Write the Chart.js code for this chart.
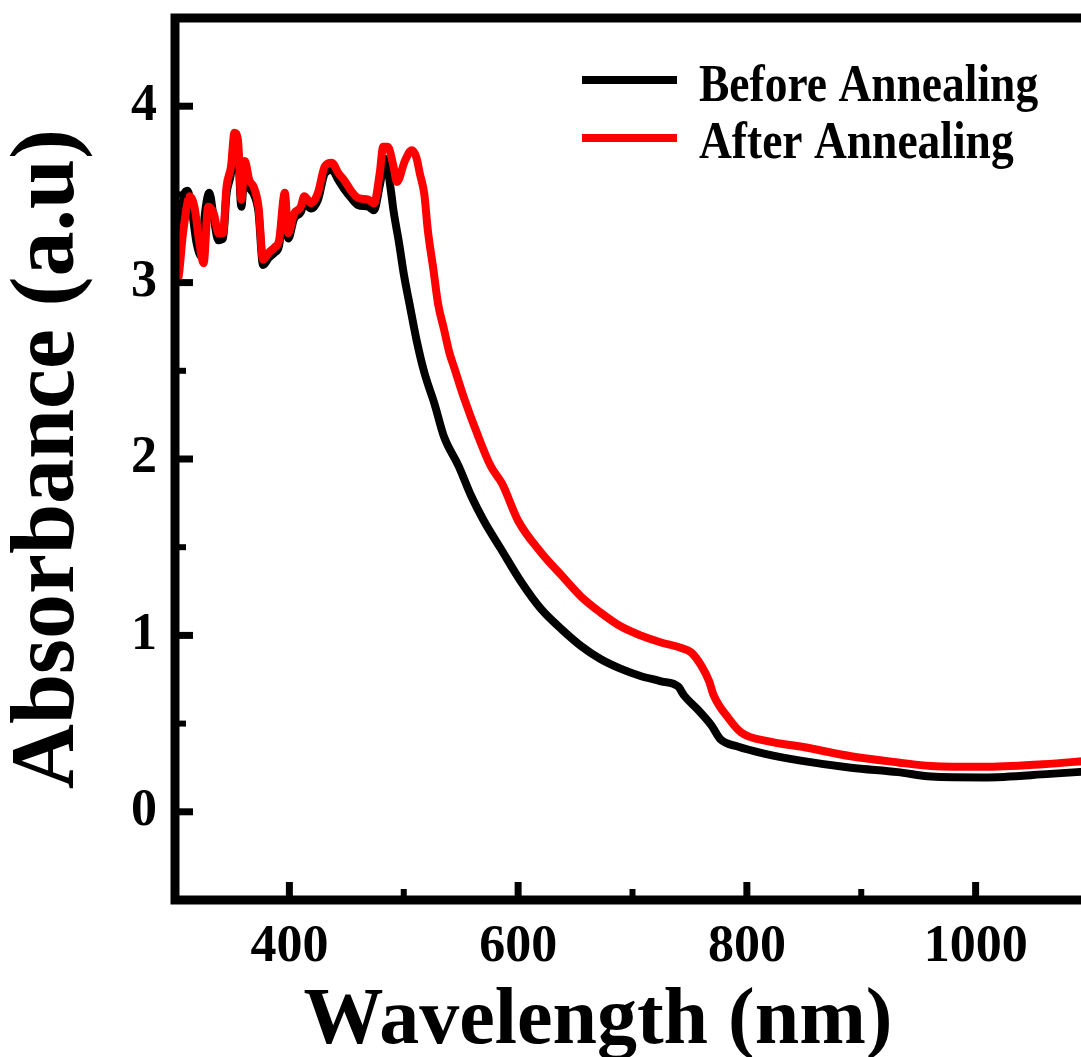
<!DOCTYPE html>
<html>
<head>
<meta charset="utf-8">
<script src="https://cdn.jsdelivr.net/npm/chart.js@4/dist/chart.umd.min.js"></script>
<style>
  html, body { margin: 0; padding: 0; background: #ffffff; overflow: hidden; }
  #wrap { width: 1100px; height: 1057px; }
</style>
</head>
<body>
<div id="wrap"><canvas id="c" width="1100" height="1057"></canvas></div>
<script>
// ---- data ----
const seriesLabels = ["Before Annealing", "After Annealing"];
const seriesColors = ["#000000", "#ff0000"];

const wlBefore = [300, 304, 308, 311, 315, 319, 323, 326, 330, 334, 338, 342, 345, 349, 352, 355, 358, 361, 365, 369, 373, 377, 382, 387, 391, 396, 399, 404, 410, 413, 419, 425, 431, 437, 443, 448, 454, 460, 469, 474, 479, 484, 489, 491, 496, 500, 505, 511, 518, 527, 535, 548, 559, 570, 585, 603, 620, 638, 655, 672, 690, 707, 725, 740, 745, 757, 769, 777, 792, 815, 847, 891, 932, 961, 1007, 1065, 1100];
const absBefore = [3.15, 3.30, 3.50, 3.52, 3.40, 3.22, 3.15, 3.38, 3.51, 3.36, 3.24, 3.25, 3.50, 3.62, 3.80, 3.76, 3.43, 3.64, 3.54, 3.50, 3.40, 3.10, 3.14, 3.17, 3.21, 3.47, 3.25, 3.36, 3.40, 3.45, 3.42, 3.47, 3.62, 3.64, 3.58, 3.53, 3.48, 3.44, 3.43, 3.41, 3.55, 3.70, 3.51, 3.41, 3.22, 3.05, 2.88, 2.68, 2.49, 2.31, 2.13, 1.96, 1.79, 1.65, 1.49, 1.30, 1.15, 1.035, 0.94, 0.866, 0.81, 0.77, 0.74, 0.71, 0.66, 0.58, 0.49, 0.41, 0.37, 0.33, 0.29, 0.25, 0.225, 0.20, 0.195, 0.215, 0.23];

const wlAfter = [300, 303, 307, 313, 317, 321, 325, 329, 334, 338, 342, 345, 349, 352, 355, 358, 361, 365, 369, 373, 377, 382, 387, 391, 396, 399, 404, 410, 413, 419, 425, 431, 437, 443, 448, 454, 460, 469, 474, 479, 482, 486, 491, 494, 501, 507, 511, 514, 518, 521, 526, 530, 535, 540, 544, 553, 565, 576, 586, 600, 620, 638, 655, 672, 690, 707, 725, 742, 751, 760, 767, 771, 784, 795, 818, 847, 891, 932, 961, 1007, 1059, 1100];
const absAfter = [3.00, 3.03, 3.28, 3.49, 3.43, 3.24, 3.11, 3.43, 3.39, 3.28, 3.28, 3.54, 3.66, 3.85, 3.81, 3.47, 3.69, 3.58, 3.54, 3.43, 3.13, 3.17, 3.20, 3.24, 3.51, 3.28, 3.39, 3.43, 3.49, 3.45, 3.51, 3.66, 3.68, 3.62, 3.58, 3.52, 3.48, 3.47, 3.45, 3.62, 3.77, 3.77, 3.66, 3.57, 3.69, 3.75, 3.71, 3.62, 3.50, 3.30, 3.07, 2.88, 2.74, 2.60, 2.52, 2.34, 2.13, 1.96, 1.86, 1.65, 1.47, 1.34, 1.22, 1.13, 1.05, 1.00, 0.96, 0.93, 0.905, 0.83, 0.74, 0.66, 0.53, 0.45, 0.40, 0.37, 0.315, 0.28, 0.26, 0.255, 0.27, 0.29];

const xMajorTicks = [400, 600, 800, 1000];
const xMinorTicks = [500, 700, 900];
const yMajorTicks = [0, 1, 2, 3, 4];
const yMinorTicks = [0.5, 1.5, 2.5, 3.5];
const xTitle = "Wavelength (nm)";
const yTitle = "Absorbance (a.u)";

// ---- styling ----
const SERIF = "'Liberation Serif', 'Times New Roman', serif";

const framePlugin = {
  id: 'frameTicks',
  afterDatasetsDraw(chart) {
    const {ctx, chartArea: a, scales} = chart;
    ctx.save();
    ctx.strokeStyle = '#000';
    const tick = (x1, y1, x2, y2, w) => {
      ctx.lineWidth = w; ctx.beginPath(); ctx.moveTo(x1, y1); ctx.lineTo(x2, y2); ctx.stroke();
    };
    xMajorTicks.forEach(v => { const p = scales.x.getPixelForValue(v); tick(p, a.bottom, p, a.bottom - 18, 7); });
    xMinorTicks.forEach(v => { const p = scales.x.getPixelForValue(v); tick(p, a.bottom, p, a.bottom - 11, 6); });
    yMajorTicks.forEach(v => { const p = scales.y.getPixelForValue(v); tick(a.left, p, a.left + 18, p, 7); });
    yMinorTicks.forEach(v => { const p = scales.y.getPixelForValue(v); tick(a.left, p, a.left + 11, p, 6); });
    ctx.lineWidth = 9;
    ctx.lineJoin = 'miter';
    ctx.strokeRect(a.left, a.top, a.right - a.left, a.bottom - a.top);
    ctx.restore();
  },
  afterDraw(chart) {
    const {ctx} = chart;
    ctx.save();
    ctx.fillStyle = '#000';
    ctx.font = "bold 80px " + SERIF;
    ctx.textAlign = 'center';
    ctx.textBaseline = 'alphabetic';
    ctx.fillText(xTitle, 598, 1043);
    const ds = chart.data.datasets;
    const rows = [{ly: 80, ty: 101}, {ly: 138, ty: 158}];
    ds.forEach((d, i) => {
      const r = rows[i];
      ctx.strokeStyle = d.borderColor;
      ctx.lineWidth = 8;
      ctx.beginPath(); ctx.moveTo(582, r.ly); ctx.lineTo(677, r.ly); ctx.stroke();
      ctx.save();
      ctx.translate(699, r.ty);
      ctx.scale(1, 1.17);
      ctx.fillStyle = '#000';
      ctx.font = "bold 45.5px " + SERIF;
      ctx.textAlign = 'left';
      ctx.textBaseline = 'alphabetic';
      ctx.fillText(d.label, 0, 0);
      ctx.restore();
    });
    ctx.restore();
  }
};

const toPts = (xs, ys) => xs.map((x, i) => ({x: x, y: ys[i]}));

new Chart(document.getElementById('c'), {
  type: 'line',
  data: {
    datasets: [
      { label: seriesLabels[0], data: toPts(wlBefore, absBefore), borderColor: seriesColors[0], backgroundColor: seriesColors[0],
        borderWidth: 8, pointRadius: 0, cubicInterpolationMode: 'monotone', order: 1, borderJoinStyle: 'round' },
      { label: seriesLabels[1], data: toPts(wlAfter, absAfter), borderColor: seriesColors[1], backgroundColor: seriesColors[1],
        borderWidth: 8, pointRadius: 0, cubicInterpolationMode: 'monotone', order: 0, borderJoinStyle: 'round' }
    ]
  },
  options: {
    responsive: false,
    devicePixelRatio: 1,
    animation: false,
    layout: { padding: { top: 18, right: 10, left: 0, bottom: 0 } },
    plugins: { legend: { display: false }, tooltip: { enabled: false } },
    scales: {
      x: {
        type: 'linear', min: 300, max: 1100,
        grid: { display: false, drawTicks: false },
        border: { display: false },
        afterBuildTicks: s => { s.ticks = xMajorTicks.map(v => ({value: v})); },
        afterFit: s => { s.height = 157; s.paddingLeft = 0; s.paddingRight = 0; },
        ticks: { color: '#000', padding: 16, maxRotation: 0, autoSkip: false,
                 callback: v => String(v),
                 font: { family: SERIF, size: 52, weight: 'bold' } }
      },
      y: {
        type: 'linear', min: -0.5, max: 4.5,
        grid: { display: false, drawTicks: false },
        border: { display: false },
        afterBuildTicks: s => { s.ticks = yMajorTicks.map(v => ({value: v})); },
        afterFit: s => { s.width = 175; s.paddingTop = 0; s.paddingBottom = 0; },
        ticks: { color: '#000', padding: 18, autoSkip: false,
                 callback: v => String(v),
                 font: { family: SERIF, size: 52, weight: 'bold' } },
        title: { display: true, text: yTitle, color: '#000', padding: { top: 5, bottom: 0 },
                 font: { family: SERIF, size: 90, weight: 'bold', lineHeight: 1 } }
      }
    }
  },
  plugins: [framePlugin]
});
</script>
</body>
</html>
